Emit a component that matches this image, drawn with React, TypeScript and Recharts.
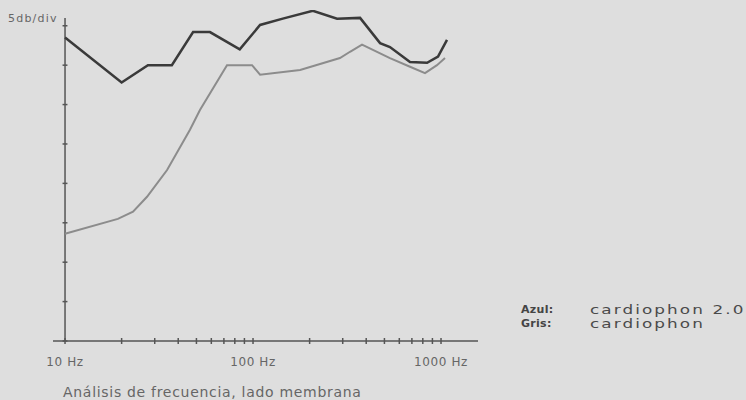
import React from 'react';
import { LineChart, Line, XAxis, YAxis, ReferenceLine } from 'recharts';

// Azul: cardiophon 2.0 (dark trace)
const azulHz = [10, 20, 27.6, 37, 48, 59, 85, 109, 144, 208, 280, 371, 474, 535, 684, 843, 964, 1076];
const azulDb = [38.5, 32.8, 35.0, 35.0, 39.2, 39.2, 37.0, 40.1, 40.9, 41.9, 40.9, 41.0, 37.8, 37.3, 35.4, 35.3, 36.1, 38.2];

// Gris: cardiophon (light trace)
const grisHz = [10, 19.1, 23, 27.3, 34.9, 46.2, 52.2, 72.7, 98.8, 109, 178, 290, 328, 380, 535, 684, 822, 952, 1050];
const grisDb = [13.6, 15.5, 16.4, 18.3, 21.7, 26.8, 29.3, 35.0, 35.0, 33.8, 34.4, 35.9, 36.7, 37.6, 35.9, 34.8, 34.0, 35.0, 35.9];

const xTicks = [10, 20, 30, 40, 50, 60, 70, 80, 90, 100, 200, 300, 400, 500, 600, 700, 800, 900, 1000];
const xLabelValues = [10, 100, 1000];
const xLabels = ['10 Hz', '100 Hz', '1000 Hz'];
const yTicks = [0, 5, 10, 15, 20, 25, 30, 35, 40];

const azul = azulHz.map((hz, i) => ({ hz, db: azulDb[i] }));
const gris = grisHz.map((hz, i) => ({ hz, db: grisDb[i] }));

const AXIS = '#555';
const FONT = '"DejaVu Sans", sans-serif';

// eslint-disable-next-line @typescript-eslint/no-explicit-any
const XTick = (props: any) => {
  const { x, y, payload } = props;
  const idx = xLabelValues.indexOf(payload.value);
  return (
    <g>
      <line x1={x} x2={x} y1={y - 3} y2={y + 3} stroke={AXIS} strokeWidth={1.5} />
      {idx >= 0 && (
        <text
          x={x}
          y={y + 25}
          textAnchor="middle"
          fontFamily={FONT}
          fontSize={12}
          letterSpacing={0.6}
          fill="#666"
        >
          {xLabels[idx]}
        </text>
      )}
    </g>
  );
};

export default function App() {
  return (
    <div
      style={{
        position: 'absolute',
        left: 0,
        top: 0,
        width: 746,
        height: 400,
        background: '#dedede',
        overflow: 'hidden',
      }}
    >
      <LineChart
        width={746}
        height={400}
        margin={{ top: 10, right: 268, bottom: 29, left: 53 }}
      >
        <XAxis
          dataKey="hz"
          type="number"
          scale="log"
          domain={[8.63, 1573]}
          allowDataOverflow
          ticks={xTicks}
          interval={0}
          tickSize={0}
          tickMargin={0}
          tickLine={false}
          tick={<XTick />}
          height={30}
          axisLine={{ stroke: AXIS, strokeWidth: 1.5 }}
        />
        <YAxis type="number" domain={[0, 42]} hide allowDataOverflow />
        <ReferenceLine
          segment={[
            { x: 10, y: 0 },
            { x: 10, y: 41 },
          ]}
          stroke={AXIS}
          strokeWidth={1.5}
        />
        {yTicks.map((v) => (
          <ReferenceLine
            key={`yt-${v}`}
            segment={[
              { x: 9.7, y: v },
              { x: 10.3, y: v },
            ]}
            stroke={AXIS}
            strokeWidth={1.5}
          />
        ))}
        <Line
          data={gris}
          dataKey="db"
          type="linear"
          stroke="#8c8c8c"
          strokeWidth={2}
          dot={false}
          isAnimationActive={false}
        />
        <Line
          data={azul}
          dataKey="db"
          type="linear"
          stroke="#3a3a3a"
          strokeWidth={2.5}
          dot={false}
          isAnimationActive={false}
        />
      </LineChart>

      <div
        style={{
          position: 'absolute',
          left: 8,
          top: 13,
          fontFamily: FONT,
          fontSize: 11,
          lineHeight: '12px',
          letterSpacing: 1.2,
          color: '#666',
        }}
      >
        5db/div
      </div>

      <div
        style={{
          position: 'absolute',
          left: 63,
          top: 385,
          fontFamily: FONT,
          fontSize: 14,
          lineHeight: '14px',
          letterSpacing: 0.7,
          color: '#666',
          whiteSpace: 'nowrap',
        }}
      >
        Análisis de frecuencia, lado membrana
      </div>

      <div
        style={{
          position: 'absolute',
          left: 521,
          top: 303,
          fontFamily: FONT,
          fontSize: 11,
          fontWeight: 'bold',
          lineHeight: '14px',
          letterSpacing: 0.3,
          color: '#444',
        }}
      >
        <div>Azul:</div>
        <div>Gris:</div>
      </div>
      <div
        style={{
          position: 'absolute',
          left: 590,
          top: 303,
          fontFamily: FONT,
          fontSize: 12,
          lineHeight: '14px',
          letterSpacing: 1.5,
          color: '#4a4a4a',
          whiteSpace: 'nowrap',
          transform: 'scaleX(1.4)',
          transformOrigin: 'left top',
        }}
      >
        <div>cardiophon 2.0</div>
        <div>cardiophon</div>
      </div>
    </div>
  );
}
